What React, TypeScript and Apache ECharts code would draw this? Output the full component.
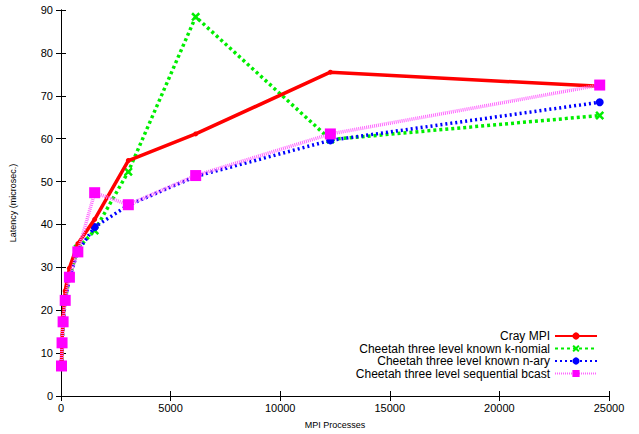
import React, { useEffect, useRef } from "react";
import * as echarts from "echarts";

const processes = [24, 48, 96, 192, 384, 768, 1536, 3072, 6144, 12288, 24576];
const crayMPI = [8, 13, 18.5, 24.5, 29.8, 35.5, 41.2, 54.9, 61.1, 75.5, 72.2];
const kNomial = [7, 12.2, 17.2, 22.5, 27.6, 34.4, 38.6, 52.3, 88.4, 59.8, 65.4];
const nAry = [7, 12.2, 17.1, 22.2, 27.5, 33.8, 39.4, 44.5, 51.2, 59.6, 68.5];
const seqBcast = [7, 12.4, 17.3, 22.3, 27.7, 33.6, 47.4, 44.6, 51.4, 61.1, 72.5];

const seriesNames = [
  "Cray MPI",
  "Cheetah three level known k-nomial",
  "Cheetah three level known n-ary",
  "Cheetah three level sequential bcast",
];

const xTicks = { min: 0, max: 25000, interval: 5000 };
const yTicks = { min: 0, max: 90, interval: 10 };

const starPath =
  "path://M2,0 L5,3 L8,0 L10,2 L7,5 L10,8 L8,10 L5,7 L2,10 L0,8 L3,5 L0,2 Z";

export default function App() {
  const ref = useRef<HTMLDivElement>(null);
  useEffect(() => {
    if (!ref.current) return;
    const chart = echarts.init(ref.current, undefined, { renderer: "svg" });
    const pairs = (ys: number[]) => processes.map((x, i) => [x, ys[i]]);
    const font = "Liberation Sans, Arial, Helvetica, sans-serif";
    const axisLine = { show: true, lineStyle: { color: "#000", width: 1 } };
    const tick = { show: true, inside: true, length: 5, lineStyle: { color: "#000" } };
    chart.setOption({
      animation: false,
      backgroundColor: "#fff",
      textStyle: { fontFamily: font },
      grid: { left: 60, right: 30, top: 10, bottom: 37, containLabel: false },
      legend: {
        orient: "vertical",
        right: 41,
        top: 330,
        align: "right",
        itemWidth: 42,
        itemHeight: 9,
        itemGap: 0.5,
        padding: 0,
        textStyle: { fontSize: 12, color: "#000", fontFamily: font, lineHeight: 12 },
        data: seriesNames,
      },
      xAxis: [
        {
          type: "value",
          ...xTicks,
          name: "MPI Processes",
          nameLocation: "middle",
          nameGap: 24,
          nameTextStyle: { fontSize: 9, color: "#000" },
          axisLine,
          axisTick: tick,
          axisLabel: { fontSize: 11, color: "#000", margin: 6, formatter: (v: number) => String(v) },
          splitLine: { show: false },
        },
        {
          type: "value",
          ...xTicks,
          position: "top",
          axisLine,
          axisTick: tick,
          axisLabel: { show: false },
          splitLine: { show: false },
        },
      ],
      yAxis: [
        {
          type: "value",
          ...yTicks,
          name: "Latency (microsec.)",
          nameLocation: "middle",
          nameGap: 44,
          nameTextStyle: { fontSize: 9, color: "#000" },
          axisLine,
          axisTick: tick,
          axisLabel: { fontSize: 11, color: "#000", margin: 8 },
          splitLine: { show: false },
        },
        {
          type: "value",
          ...yTicks,
          position: "right",
          axisLine,
          axisTick: tick,
          axisLabel: { show: false },
          splitLine: { show: false },
        },
      ],
      series: [
        {
          name: seriesNames[0],
          type: "line",
          data: pairs(crayMPI),
          symbol: "circle",
          symbolSize: 5,
          itemStyle: { color: "#ff0000" },
          lineStyle: { color: "#ff0000", width: 3.5 },
          z: 5,
        },
        {
          name: seriesNames[1],
          type: "line",
          data: pairs(kNomial),
          symbol: starPath,
          symbolSize: 9,
          itemStyle: { color: "#00ee00" },
          lineStyle: { color: "#00ee00", width: 3.5, type: [3, 3] },
          z: 3,
        },
        {
          name: seriesNames[2],
          type: "line",
          data: pairs(nAry),
          symbol: "circle",
          symbolSize: 8,
          itemStyle: { color: "#0000ff" },
          lineStyle: { color: "#0000ff", width: 3.5, type: [2, 3] },
          z: 4,
        },
        {
          name: seriesNames[3],
          type: "line",
          data: pairs(seqBcast),
          symbol: "rect",
          symbolSize: 11,
          itemStyle: { color: "#ff00ff" },
          lineStyle: { color: "#ff66ff", width: 3.5, type: [1, 1] },
          z: 6,
        },
      ],
    });
    return () => chart.dispose();
  }, []);
  return <div ref={ref} style={{ width: 639, height: 434, position: "absolute", left: 0, top: 0 }} />;
}
